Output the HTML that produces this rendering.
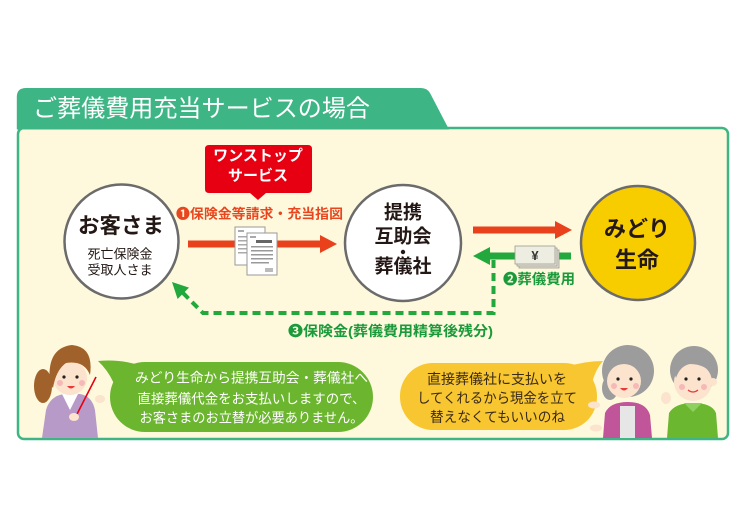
<!DOCTYPE html>
<html><head><meta charset="utf-8">
<style>
html,body{margin:0;padding:0;background:#fff;}
svg{display:block;}
text{font-family:"Liberation Sans","Noto Sans CJK JP",sans-serif;}
</style></head>
<body>
<svg width="746" height="508" viewBox="0 0 746 508" xmlns="http://www.w3.org/2000/svg">
<rect width="746" height="508" fill="#fff"/>
<!-- main box -->
<rect x="18" y="128" width="710" height="311" rx="6" fill="#fef9dc" stroke="#3db585" stroke-width="2.5"/>
<path d="M16.8,129.5 L16.8,97 Q16.8,88 26,88 L421,88 Q427,88 430,93 L449,129.5 Z" fill="#3db585"/>
<text x="33" y="109" font-size="24" fill="#fff" dominant-baseline="central" textLength="337" lengthAdjust="spacingAndGlyphs">ご葬儀費用充当サービスの場合</text>

<!-- red box -->
<path d="M209,145 L308,145 Q312,145 312,149 L312,189 Q312,193 308,193 L266,193 L258,200 L250,193 L209,193 Q205,193 205,189 L205,149 Q205,145 209,145 Z" fill="#e60012"/>
<text x="258" y="156" font-size="15" font-weight="bold" fill="#fff" text-anchor="middle" dominant-baseline="central">ワンストップ</text>
<text x="258" y="176" font-size="15" font-weight="bold" fill="#fff" text-anchor="middle" dominant-baseline="central">サービス</text>

<text x="259.5" y="214" font-size="13.5" font-weight="bold" fill="#e8461e" text-anchor="middle" dominant-baseline="central" textLength="167" lengthAdjust="spacingAndGlyphs">❶保険金等請求・充当指図</text>

<!-- red arrow 1 -->
<rect x="188" y="240.5" width="134" height="7" fill="#e8411b"/>
<polygon points="320,235 337,244 320,253" fill="#e8411b"/>

<!-- documents -->
<rect x="235" y="227" width="30" height="38" fill="#fff" stroke="#999" stroke-width="1"/>
<rect x="238" y="230" width="6" height="2" fill="#aaa"/>
<g fill="#aaa"><rect x="238" y="236" width="9" height="1.5"/><rect x="238" y="240" width="9" height="1.5"/><rect x="238" y="244" width="9" height="1.5"/><rect x="238" y="248" width="9" height="1.5"/><rect x="238" y="252" width="9" height="1.5"/></g>
<rect x="247" y="233" width="30" height="42" fill="#fff" stroke="#999" stroke-width="1"/>
<rect x="250" y="236" width="6" height="2" fill="#aaa"/>
<rect x="256" y="240" width="16" height="3" fill="#666"/>
<g fill="#999"><rect x="251" y="246" width="22" height="1.5"/><rect x="251" y="250" width="22" height="1.5"/><rect x="251" y="254" width="22" height="1.5"/><rect x="251" y="258" width="22" height="1.5"/><rect x="251" y="262" width="18" height="1.5"/></g>
<rect x="265" y="268" width="8" height="4" fill="#bbb"/>

<!-- circles -->
<circle cx="121.5" cy="241.5" r="57" fill="#fff" stroke="#6b6b6b" stroke-width="2.5"/>
<text x="121" y="226" font-size="21.5" font-weight="bold" fill="#231815" text-anchor="middle" dominant-baseline="central">お客さま</text>
<text x="120" y="254" font-size="13" fill="#231815" text-anchor="middle" dominant-baseline="central">死亡保険金</text>
<text x="120" y="270" font-size="13" fill="#231815" text-anchor="middle" dominant-baseline="central">受取人さま</text>

<circle cx="403" cy="243" r="58" fill="#fff" stroke="#6b6b6b" stroke-width="2.5"/>
<text x="403" y="213" font-size="19" font-weight="bold" fill="#231815" text-anchor="middle" dominant-baseline="central">提携</text>
<text x="403" y="237" font-size="19" font-weight="bold" fill="#231815" text-anchor="middle" dominant-baseline="central">互助会</text>
<circle cx="403" cy="252" r="2.2" fill="#231815"/>
<text x="403" y="267" font-size="19" font-weight="bold" fill="#231815" text-anchor="middle" dominant-baseline="central">葬儀社</text>

<circle cx="638" cy="243" r="57" fill="#f8cd00" stroke="#6b6b6b" stroke-width="2.5"/>
<text x="637" y="229" font-size="22" font-weight="bold" fill="#231815" text-anchor="middle" dominant-baseline="central">みどり</text>
<text x="637" y="260" font-size="22" font-weight="bold" fill="#231815" text-anchor="middle" dominant-baseline="central">生命</text>

<!-- red arrow 2 -->
<rect x="473" y="226.5" width="84" height="7" fill="#e8411b"/>
<polygon points="555,221 572,230 555,239" fill="#e8411b"/>

<!-- green arrow -->
<rect x="488" y="252.5" width="83" height="7" fill="#22a83c"/>
<polygon points="490,247 473,256 490,265" fill="#22a83c"/>

<!-- yen bills -->
<rect x="519" y="250" width="40" height="18" fill="#e6e4d6" stroke="#9a9a90" stroke-width="0.8"/>
<rect x="517" y="248" width="40" height="18" fill="#e9e7da" stroke="#9a9a90" stroke-width="0.8"/>
<rect x="515" y="246" width="40" height="18" fill="#eeede2" stroke="#9a9a90" stroke-width="0.8"/>
<text x="535" y="255.5" font-size="13" font-weight="bold" fill="#333" text-anchor="middle" dominant-baseline="central">¥</text>

<text x="539" y="279" font-size="14" font-weight="bold" fill="#1a9a3a" text-anchor="middle" dominant-baseline="central" textLength="72" lengthAdjust="spacingAndGlyphs">❷葬儀費用</text>

<!-- dashed -->
<path d="M493.5,260 L493.5,313 L203,313 L181,291" fill="none" stroke="#22a83c" stroke-width="4" stroke-dasharray="8,5"/>
<polygon points="172,282 177.6,299 189,287.6" fill="#22a83c"/>
<text x="390.5" y="331" font-size="14" font-weight="bold" fill="#1a9a3a" text-anchor="middle" dominant-baseline="central" textLength="205" lengthAdjust="spacingAndGlyphs">❸保険金(葬儀費用精算後残分)</text>

<!-- green bubble -->
<rect x="110" y="362" width="263" height="70" rx="35" fill="#6bb52f"/>
<path d="M98,361 Q120,359 138,365 L118,396 Q113,375 98,361 Z" fill="#6bb52f"/>
<text x="251.5" y="378" font-size="13.5" fill="#fff" text-anchor="middle" dominant-baseline="central" textLength="233" lengthAdjust="spacingAndGlyphs">みどり生命から提携互助会・葬儀社へ</text>
<text x="251.5" y="399" font-size="13.5" fill="#fff" text-anchor="middle" dominant-baseline="central" textLength="228" lengthAdjust="spacingAndGlyphs">直接葬儀代金をお支払いしますので、</text>
<text x="251.5" y="418" font-size="13.5" fill="#fff" text-anchor="middle" dominant-baseline="central" textLength="224" lengthAdjust="spacingAndGlyphs">お客さまのお立替が必要ありません。</text>

<!-- yellow bubble -->
<rect x="400" y="363" width="197" height="67" rx="33" fill="#f7c631"/>
<path d="M603,361 Q585,361 566,367 L590,393 Q593,372 603,361 Z" fill="#f7c631"/>
<text x="497" y="379" font-size="14" fill="#3a2a1a" text-anchor="middle" dominant-baseline="central" textLength="140" lengthAdjust="spacingAndGlyphs">直接葬儀社に支払いを</text>
<text x="497" y="398" font-size="14" fill="#3a2a1a" text-anchor="middle" dominant-baseline="central" textLength="160" lengthAdjust="spacingAndGlyphs">してくれるから現金を立て</text>
<text x="497.5" y="417" font-size="14" fill="#3a2a1a" text-anchor="middle" dominant-baseline="central" textLength="135" lengthAdjust="spacingAndGlyphs">替えなくてもいいのね</text>

<!-- woman teacher -->
<ellipse cx="43" cy="386" rx="9" ry="17" fill="#a0612a"/>
<path d="M42,438 L46,410 Q50,396 64,394 L80,394 Q92,396 95,410 L98,438 Z" fill="#b89ac8"/>
<path d="M62,394 L70,410 L78,394 Z" fill="#fff"/>
<circle cx="70" cy="378" r="17" fill="#fce3cd"/>
<path d="M50,384 Q46,348 72,345 Q94,347 90,375 Q84,360 66,363 Q56,370 53,388 Z" fill="#a0612a"/>
<circle cx="64" cy="377" r="1.6" fill="#222"/><circle cx="77" cy="377" r="1.6" fill="#222"/>
<circle cx="60" cy="383" r="3" fill="#f7b8b8"/><circle cx="82" cy="383" r="3" fill="#f7b8b8"/>
<path d="M67,386 Q71,391 75,386 Z" fill="#e83a3a"/>
<line x1="96" y1="377" x2="75" y2="418" stroke="#e60012" stroke-width="1.6"/>
<ellipse cx="74" cy="417" rx="5" ry="4" fill="#fce3cd"/>
<ellipse cx="100" cy="399" rx="5" ry="4" fill="#fce3cd"/>

<!-- elderly woman -->
<circle cx="628" cy="371" r="26" fill="#9c9c9c"/>
<ellipse cx="610" cy="388" rx="8" ry="12" fill="#9c9c9c"/>
<path d="M603,438 L605,413 Q610,402 628,402 Q646,402 650,415 L652,438 Z" fill="#c0559a"/>
<rect x="620" y="406" width="15" height="32" fill="#e6e6e6"/>
<circle cx="624" cy="381" r="17" fill="#fce3cd"/>
<circle cx="618" cy="379" r="1.6" fill="#222"/><circle cx="631" cy="379" r="1.6" fill="#222"/>
<circle cx="614" cy="386" r="3" fill="#f7b8b8"/><circle cx="636" cy="386" r="3" fill="#f7b8b8"/>
<path d="M620,388 Q624,393 628,388 Z" fill="#e83a3a"/>
<ellipse cx="594" cy="405" rx="6" ry="3.5" fill="#fce3cd"/>
<ellipse cx="596" cy="428" rx="6" ry="3.5" fill="#fce3cd"/>

<!-- elderly man -->
<circle cx="694" cy="370" r="24" fill="#9c9c9c"/>
<path d="M667,438 L669,413 Q675,403 693,403 Q712,403 716,413 L718,438 Z" fill="#6bb830"/>
<path d="M684,403 L693,412 L702,403 Z" fill="#8fd060"/>
<circle cx="693" cy="382" r="19" fill="#fce3cd"/>
<circle cx="713" cy="382" r="4" fill="#fce3cd"/>
<path d="M674,372 Q680,352 700,356 Q712,360 713,376 Q706,364 690,364 Q680,366 676,378 Z" fill="#9c9c9c"/>
<circle cx="686" cy="379" r="1.6" fill="#222"/><circle cx="699" cy="379" r="1.6" fill="#222"/>
<circle cx="682" cy="387" r="3" fill="#f7b8b8"/><circle cx="704" cy="387" r="3" fill="#f7b8b8"/>
<path d="M688,390 Q693,394 698,390" fill="none" stroke="#e83a3a" stroke-width="1.2"/>
<ellipse cx="666" cy="398" rx="5" ry="6" fill="#fce3cd"/>
</svg>
</body></html>
